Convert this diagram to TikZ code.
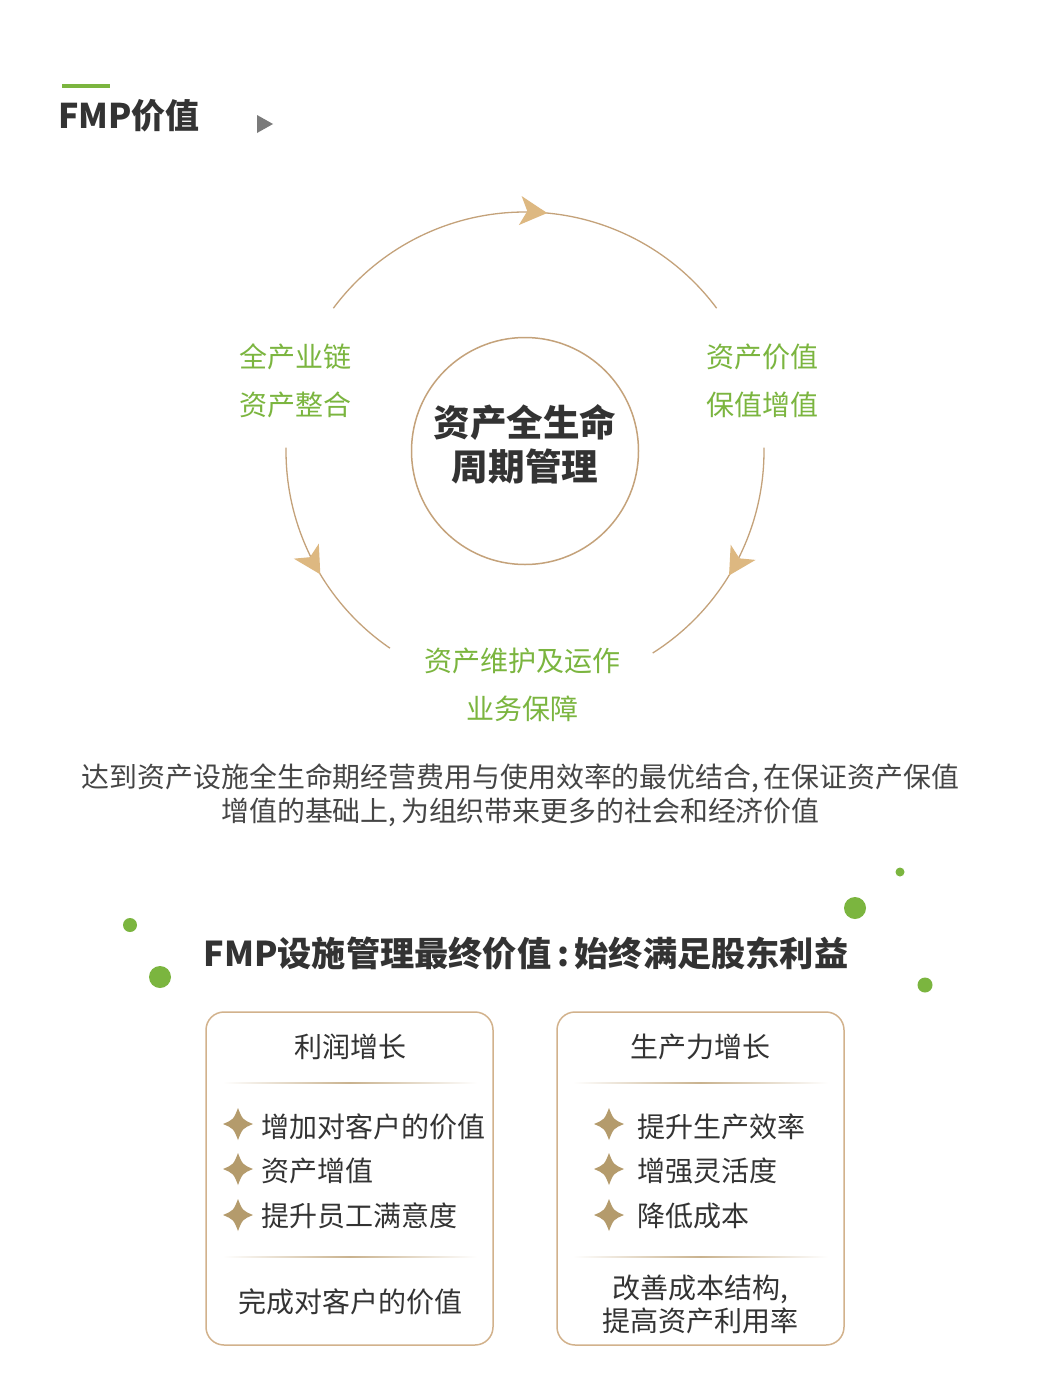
\documentclass[tikz,border=0pt]{standalone}
\usepackage{fontspec}
\setmainfont{Noto Sans CJK SC}
\usetikzlibrary{arrows.meta,decorations.markings}
\definecolor{fgreen}{HTML}{7BB53F}
\definecolor{arcgold}{HTML}{C4A27A}
\definecolor{arrowgold}{HTML}{DDB881}
\definecolor{stargold}{HTML}{B49B6C}
\definecolor{txt}{HTML}{333333}
\definecolor{paratxt}{HTML}{454545}
\definecolor{boxline}{HTML}{D2B28C}
\definecolor{sepgold}{HTML}{C9B28E}
\definecolor{trigrey}{HTML}{7A7A7A}
\tikzset{
  gtext/.style={text=fgreen, align=center, font=\fontsize{28}{48}\selectfont},
  itemtext/.style={text=txt, anchor=west, font=\fontsize{28}{32}\selectfont},
  headtext/.style={text=txt, align=center, font=\fontsize{28}{33}\selectfont},
  cardbox/.style={draw=boxline, line width=1.5pt, rounded corners=18pt, minimum width=287pt, minimum height=333pt, fill=white},
  dotg/.style={fill=fgreen, draw=none},
  cyclearc/.style={draw=arcgold, line width=1.3pt, postaction={decorate},
    decoration={markings, mark=at position #1 with {\arrow{Stealth[length=27pt,width=29pt,inset=7pt,color=arrowgold]}}}},
  star4/.pic={\fill[stargold] (0,-16) .. controls (4.5,-4.5) .. (15,0) .. controls (4.5,4.5) .. (0,16) .. controls (-4.5,4.5) .. (-15,0) .. controls (-4.5,-4.5) .. (0,-16) -- cycle;}
}
\begin{document}
\begin{tikzpicture}[x=1pt,y=-1pt]
\useasboundingbox[fill=white] (0,0) rectangle (1043,1400);

% header
\draw[fgreen, line width=4pt] (62,86) -- (110,86);
\node[anchor=west, inner sep=0, text=txt, font=\fontsize{34}{40}\selectfont\bfseries] (title) at (58,116) {FMP价值};
\fill[trigrey] (257,115) -- (257,133) -- (273,124) -- cycle;

% cycle
\coordinate (c) at (525,451);
\draw[cyclearc=0.55] (c) ++(143.3:239pt) arc[start angle=143.3, end angle=36.7, radius=239pt];
\draw[cyclearc=0.565] (c) ++(179.2:239pt) arc[start angle=179.2, end angle=235.6, radius=239pt];
\draw[cyclearc=0.55] (c) ++(0.8:239pt) arc[start angle=0.8, end angle=-57.7, radius=239pt];
\node[circle, draw=arcgold, line width=1.5pt, minimum size=227pt] (core) at (c) {};
\node[align=center, text=txt, font=\fontsize{36.6}{44}\selectfont\bfseries] (coretext) at (525,444) {资产全生命\\周期管理};

\node[gtext] (lefttext) at (295,381) {全产业链\\资产整合};
\node[gtext] (righttext) at (762,381) {资产价值\\保值增值};
\node[gtext] (bottomtext) at (522,685) {资产维护及运作\\业务保障};

\node[align=center, text=paratxt, font=\fontsize{27.9}{34}\selectfont] (para) at (520.5,795) {达到资产设施全生命期经营费用与使用效率的最优结合,\,在保证资产保值\\增值的基础上,\,为组织带来更多的社会和经济价值};

% subtitle and dots
\node[text=txt, font=\fontsize{34.2}{40}\selectfont\bfseries] (subtitle) at (526,953) {FMP设施管理最终价值\,:\,始终满足股东利益};
\fill[dotg] (130,925) circle (7);
\fill[dotg] (160,977) circle (11);
\fill[dotg] (855,908) circle (11);
\fill[dotg] (900,872) circle (4.5);
\fill[dotg] (925,985) circle (7.5);

% left card
\node[cardbox] (lcard) at (349.5,1178.5) {};
\node[headtext] (lhead) at (350,1047) {利润增长};
\shade[left color=white, right color=white, middle color=sepgold] (223,1082.3) rectangle (477,1083.8);
\pic at (238,1124) {star4};
\pic at (238,1169) {star4};
\pic at (238,1215) {star4};
\node[itemtext] (l1) at (258,1127) {增加对客户的价值};
\node[itemtext] (l2) at (258,1171) {资产增值};
\node[itemtext] (l3) at (258,1216) {提升员工满意度};
\shade[left color=white, right color=white, middle color=sepgold] (223,1256.3) rectangle (477,1257.8);
\node[headtext] (lfoot) at (350,1302) {完成对客户的价值};

% right card
\node[cardbox] (rcard) at (700.5,1178.5) {};
\node[headtext] (rhead) at (700,1047) {生产力增长};
\shade[left color=white, right color=white, middle color=sepgold] (573,1082.3) rectangle (828,1083.8);
\pic at (609,1124) {star4};
\pic at (609,1169) {star4};
\pic at (609,1215) {star4};
\node[itemtext] (r1) at (634,1127) {提升生产效率};
\node[itemtext] (r2) at (634,1171) {增强灵活度};
\node[itemtext] (r3) at (634,1216) {降低成本};
\shade[left color=white, right color=white, middle color=sepgold] (573,1256.3) rectangle (828,1257.8);
\node[headtext] (rfoot) at (700,1304) {改善成本结构,\\提高资产利用率};
\end{tikzpicture}
\end{document}
